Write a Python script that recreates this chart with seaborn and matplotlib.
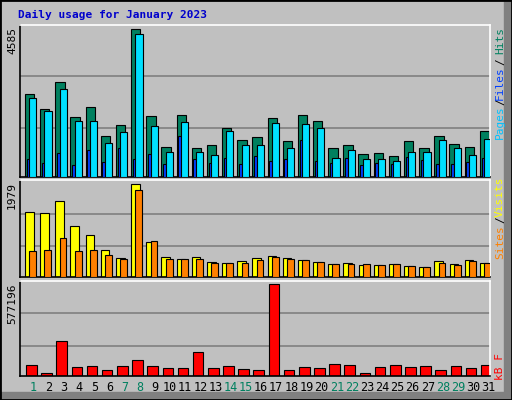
import matplotlib
matplotlib.use("Agg")
import matplotlib.pyplot as plt
import seaborn as sns
import numpy as np
import pandas as pd

days = list(range(1, 32))
hits = [2563,2095,2948,1848,2160,1256,1596,4585,1880,944,1907,912,1004,1504,1132,1224,
        1816,1100,1907,1724,912,1004,724,756,665,1100,912,1256,1036,944,1412]
files = [2439,2031,2719,1724,1724,1068,1380,4429,1568,789,1692,789,697,1412,1004,977,
         1660,912,1628,1504,601,821,569,569,509,789,789,1160,912,697,1192]
pages = [550,445,757,385,821,477,912,569,724,413,1256,569,445,601,413,665,
         509,569,1132,509,445,601,385,445,413,633,541,413,413,477,601]
visits = [1399,1377,1613,1096,904,580,410,1979,752,429,388,429,323,301,344,410,
          451,410,366,323,279,301,257,257,279,237,216,344,279,366,301]
sites = [560,580,839,560,580,473,388,1850,774,388,388,388,301,301,301,366,
         429,388,366,323,279,279,279,257,279,237,216,301,257,344,301]
kbytes = [71572,20779,222220,58874,65223,39827,65223,102741,65223,52525,52525,152957,
          52525,65223,46176,39827,577196,39827,58874,52525,77921,71572,20779,58874,
          71572,58874,65223,39827,65223,52525,71572]
weekend = [1,7,8,14,15,21,22,28,29]
title = "Daily usage for January 2023"

sns.set_style("white")
plt.rcParams['font.family'] = ['DejaVu Sans Mono', 'DejaVu Sans']

BG = "#C0C0C0"
fig = plt.figure(figsize=(5.12, 4.0), dpi=100, facecolor=BG)
W, H = 512, 400
def ax_at(y0, y1):
    return fig.add_axes([20/W, 1-y1/H, 470/W, (y1-y0)/H], facecolor=BG)

ax1 = ax_at(25, 177)
ax2 = ax_at(180, 277)
ax3 = ax_at(281, 376)
x = np.array(days, dtype=float)

def grid(ax, top):
    for f in (0.33, 0.68):
        ax.axhline(top*f, color="#808080", lw=1.2, zorder=0)

ec = dict(edgecolor="black", linewidth=0.8)
m1 = max(hits); ax1.set_ylim(0, m1*1.027); grid(ax1, m1)
ax1.bar(x+0.135, hits, width=0.62, color="#00805F", zorder=2, **ec)
ax1.bar(x+0.025, pages, width=0.17, color="#0040FF", zorder=3, **ec)
ax1.bar(x+0.345, files, width=0.47, color="#00E0FF", zorder=4, **ec)
m2 = max(visits); ax2.set_ylim(0, m2*1.047); grid(ax2, m2)
ax2.bar(x+0.115, visits, width=0.57, color="#FFFF00", zorder=2, **ec)
ax2.bar(x+0.335, sites, width=0.45, color="#FF8000", zorder=3, **ec)
m3 = max(kbytes); ax3.set_ylim(0, m3*1.033); grid(ax3, m3)
df = pd.DataFrame({"day": x+0.25, "kb": kbytes})
sns.barplot(data=df, x="day", y="kb", native_scale=True, width=0.7, color="#FF0000",
            saturation=1, ax=ax3, zorder=2, **ec)

for ax in (ax1, ax2, ax3):
    ax.set_xlim(0.5, 31.5)
    ax.set_xticks([]); ax.set_yticks([])
    ax.set_xlabel(""); ax.set_ylabel("")
    for s in ax.spines.values():
        s.set_color("black"); s.set_linewidth(1.2)
    ax.spines['top'].set_color("white"); ax.spines['right'].set_color("white")

for d in days:
    ax3.text(d+0.4, -0.12, str(d), transform=ax3.get_xaxis_transform(),
             ha="center", va="center", fontsize=8.5,
             color="#00805F" if d in weekend else "black")

fig.text(18/W, 1-15/H, title, color="#0000CC", fontsize=8, fontweight="bold", va="center")
fs = 8
def vt(y, s, c):
    fig.text(500/W, 1-y/H, s, rotation=90, color=c, fontsize=fs, ha="center", va="center")
def lt(y, s):
    fig.text(12/W, 1-y/H, s, rotation=90, color="black", fontsize=fs, ha="center", va="top")
lt(27, str(max(hits))); lt(182, str(max(visits))); lt(283, str(max(kbytes)))
vt(122, "Pages", "#00C0FF"); vt(102, "/", "black"); vt(83, "Files", "#0040FF")
vt(62, "/", "black"); vt(40, "Hits", "#00805F")
vt(242, "Sites", "#FF8000"); vt(220, "/", "black"); vt(197, "Visits", "#FFFF00")
vt(366, "kB F", "#FF0000")

fig.patches.append(plt.Rectangle((0, 0), 1, 1, transform=fig.transFigure, fill=False,
                                 edgecolor="black", lw=2))
fig.patches.append(plt.Rectangle((1-8/W, 0), 8/W, 1, transform=fig.transFigure,
                                 color="#808080", zorder=-1))
fig.patches.append(plt.Rectangle((0, 0), 1, 8/H, transform=fig.transFigure,
                                 color="#808080", zorder=-1))
fig.savefig("out.png", dpi=100, facecolor=BG)
